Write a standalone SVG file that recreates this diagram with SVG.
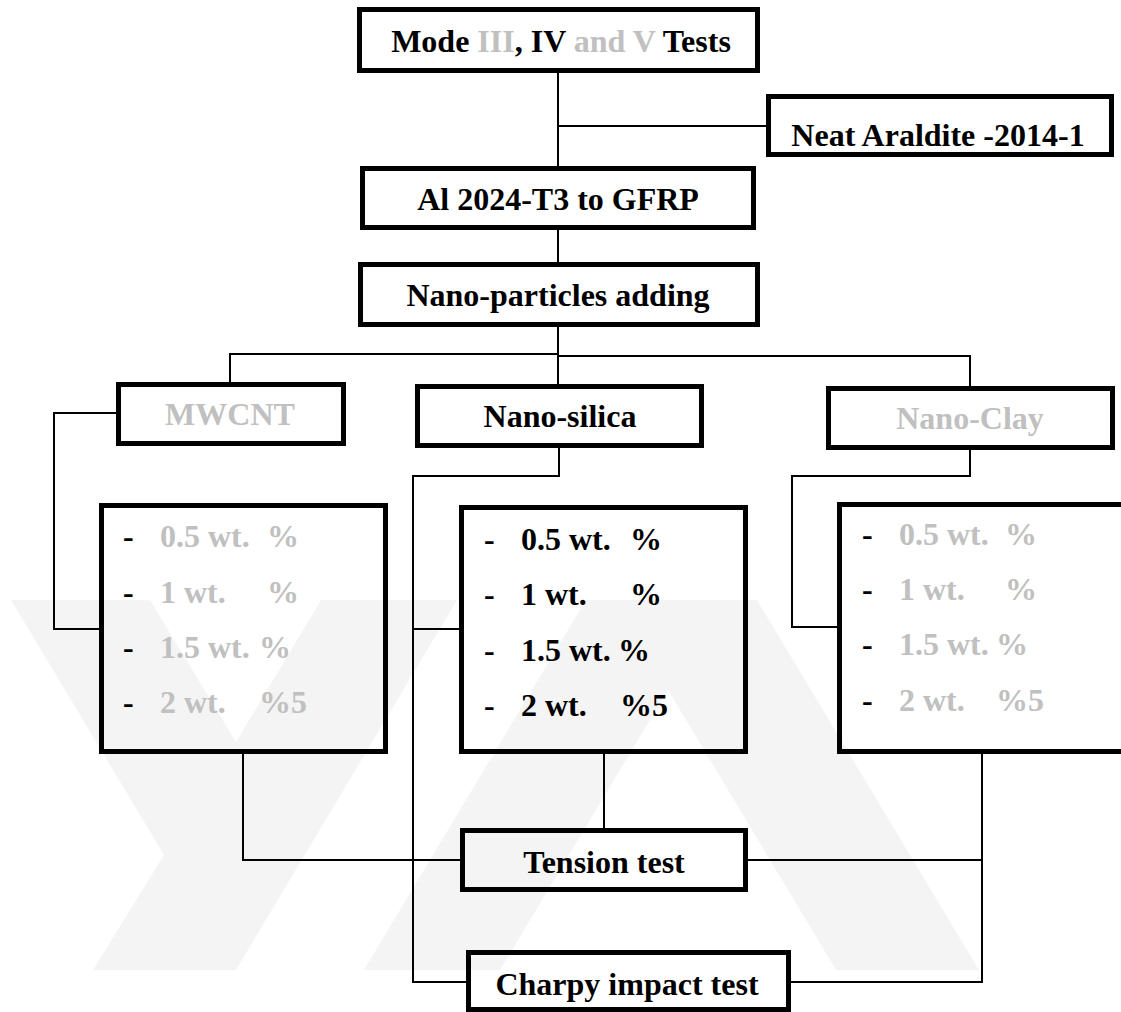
<svg xmlns="http://www.w3.org/2000/svg" width="1121" height="1012" viewBox="0 0 1121 1012">
<style>
.box{fill:none;stroke:#000;stroke-width:5}
.ln{fill:none;stroke:#000;stroke-width:2}
.t{font-family:"Liberation Serif","Times New Roman",serif;font-weight:bold;font-size:32px;fill:#000}
.c{text-anchor:middle}
.g{fill:#c0c0c0}
.wm{fill:#f4f4f4}
</style>
<rect width="1121" height="1012" fill="#fff"/>
<g id="watermark">
<polygon class="wm" points="11,600 150,600 236,742 321,600 457,600 236,970 93,970 164,855"/>
<polygon class="wm" points="364,970 586,600 757,600 979,970 836,970 668,690 500,970"/>
</g>
<g id="connectors">
<path class="ln" d="M558,73 V166 M558,126 H766 M558,230 V262 M558,327 V384 M230,382 V354 H558 M558,356 H970 V386"/>
<path class="ln" d="M116,413 H54 V629 H99"/>
<path class="ln" d="M559,448 V476 H413 V982 H466 M413,629 H459"/>
<path class="ln" d="M970,450 V476 H792 V627 H837"/>
<path class="ln" d="M243,754 V860 H460 M604,754 V828 M982,754 V982 H791 M748,860 H982"/>
</g>
<g id="n-mode">
<rect class="box" x="359.5" y="9.5" width="398" height="61"/>
<text class="t c" x="561" y="52">Mode <tspan class="g">III</tspan>, IV <tspan class="g">and V</tspan> Tests</text>
</g>
<g id="n-neat">
<rect class="box" x="768.5" y="96.5" width="343" height="58"/>
<text class="t c" x="938" y="146">Neat Araldite -2014-1</text>
</g>
<g id="n-al">
<rect class="box" x="362.5" y="168.5" width="391" height="59"/>
<text class="t c" x="558" y="210">Al 2024-T3 to GFRP</text>
</g>
<g id="n-nano">
<rect class="box" x="360.5" y="264.5" width="397" height="60"/>
<text class="t c" x="558" y="306">Nano-particles adding</text>
</g>
<g id="n-mwcnt">
<rect class="box" x="118.5" y="384.5" width="225" height="59"/>
<text class="t c g" x="230" y="425">MWCNT</text>
</g>
<g id="n-silica">
<rect class="box" x="417.5" y="386.5" width="284" height="59"/>
<text class="t c" x="560" y="427">Nano-silica</text>
</g>
<g id="n-clay">
<rect class="box" x="828.5" y="388.5" width="284" height="59"/>
<text class="t c g" x="970" y="429">Nano-Clay</text>
</g>
<g id="n-list-mwcnt">
<rect class="box" x="101.5" y="505.5" width="284" height="246"/>
<text class="t" y="547"><tspan x="123">-</tspan><tspan class="g" x="160">0.5 wt.</tspan><tspan class="g" x="267">%</tspan></text>
<text class="t" y="603"><tspan x="123">-</tspan><tspan class="g" x="160">1 wt.</tspan><tspan class="g" x="267">%</tspan></text>
<text class="t" y="658"><tspan x="123">-</tspan><tspan class="g" x="160">1.5 wt.</tspan><tspan class="g" x="259">%</tspan></text>
<text class="t" y="713"><tspan x="123">-</tspan><tspan class="g" x="160">2 wt.</tspan><tspan class="g" x="259">%5</tspan></text>
</g>
<g id="n-list-silica">
<rect class="box" x="461.5" y="507.5" width="284" height="244"/>
<text class="t" y="550"><tspan x="484">-</tspan><tspan x="521">0.5 wt.</tspan><tspan x="630">%</tspan></text>
<text class="t" y="605"><tspan x="484">-</tspan><tspan x="521">1 wt.</tspan><tspan x="630">%</tspan></text>
<text class="t" y="661"><tspan x="484">-</tspan><tspan x="521">1.5 wt.</tspan><tspan x="618">%</tspan></text>
<text class="t" y="716"><tspan x="484">-</tspan><tspan x="521">2 wt.</tspan><tspan x="620">%5</tspan></text>
</g>
<g id="n-list-clay">
<rect class="box" x="839.5" y="504.5" width="300" height="247"/>
<text class="t" y="545"><tspan x="862">-</tspan><tspan class="g" x="899">0.5 wt.</tspan><tspan class="g" x="1005">%</tspan></text>
<text class="t" y="600"><tspan x="862">-</tspan><tspan class="g" x="899">1 wt.</tspan><tspan class="g" x="1005">%</tspan></text>
<text class="t" y="655"><tspan x="862">-</tspan><tspan class="g" x="899">1.5 wt.</tspan><tspan class="g" x="996">%</tspan></text>
<text class="t" y="711"><tspan x="862">-</tspan><tspan class="g" x="899">2 wt.</tspan><tspan class="g" x="996">%5</tspan></text>
</g>
<g id="n-tension">
<rect class="box" x="462.5" y="830.5" width="283" height="59"/>
<text class="t c" x="604" y="873">Tension test</text>
</g>
<g id="n-charpy">
<rect class="box" x="468.5" y="952.5" width="320" height="57"/>
<text class="t c" x="627" y="995">Charpy impact test</text>
</g>
</svg>
